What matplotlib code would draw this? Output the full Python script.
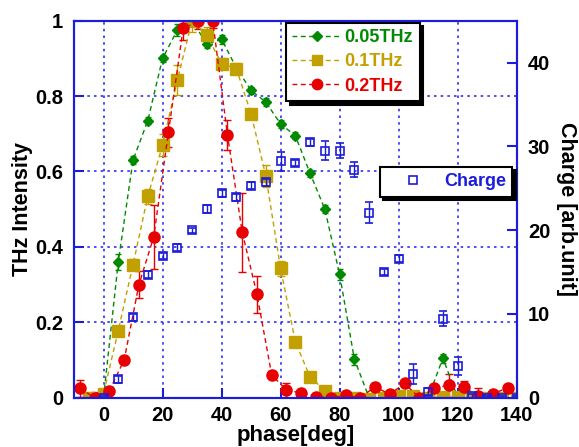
import matplotlib
matplotlib.use("Agg")
from matplotlib import pyplot as plt
from matplotlib.lines import Line2D

plt.rcParams['font.family'] = ['Liberation Sans', 'DejaVu Sans']
plt.rcParams['font.weight'] = 'bold'

# THz intensity, 0.05 THz
g_x = [0, 5, 10, 15, 20, 25, 30, 35, 40, 45, 50, 55, 60, 65, 70, 75, 80, 85,
       90, 95, 100, 105, 110, 115, 120]
g_y = [0.0, 0.36, 0.63, 0.735, 0.90, 0.975, 1.0, 0.938, 0.951, 0.875, 0.815,
       0.784, 0.726, 0.695, 0.595, 0.50, 0.327, 0.102, 0.0, 0.0, 0.0, 0.0, 0.0,
       0.105, 0.0]
g_err = [0.01, 0.02, 0.01, 0.01, 0.01, 0.015, 0.01, 0.01, 0.012, 0.01, 0.01,
         0.01, 0.01, 0.01, 0.01, 0.01, 0.015, 0.015, 0.01, 0.01, 0.01, 0.01,
         0.01, 0.012, 0.01]

# 0.1 THz
o_x = [-5, 0, 5, 10, 15, 20, 25, 30, 35, 40, 45, 50, 55, 60, 65, 70, 75, 80,
       85, 90, 95, 100, 105, 110, 115, 120, 125, 130, 135, 140]
o_y = [0.0, 0.01, 0.178, 0.353, 0.534, 0.67, 0.842, 1.0, 0.962, 0.886, 0.873,
       0.753, 0.588, 0.343, 0.148, 0.055, 0.019, 0.0, 0.0, -0.003, 0.0, 0.004,
       0.004, 0.0, 0.003, 0.003, 0.0, 0.0, 0.0, 0.0]
o_err = [0.01, 0.01, 0.01, 0.015, 0.02, 0.03, 0.04, 0.03, 0.02, 0.015, 0.015,
         0.012, 0.03, 0.02, 0.01, 0.01, 0.01, 0.01, 0.01, 0.01, 0.01, 0.01,
         0.01, 0.01, 0.01, 0.01, 0.01, 0.01, 0.01, 0.01]

# 0.2 THz
r_x = [-8, -3, 2, 7, 12, 17, 22, 27, 32, 37, 42, 47, 52, 57, 62, 67, 72, 77,
       82, 87, 92, 97, 102, 107, 112, 117, 122, 127, 132, 137]
r_y = [0.025, 0.0, 0.019, 0.10, 0.30, 0.426, 0.704, 0.98, 0.998, 1.0, 0.697,
       0.439, 0.274, 0.06, 0.02, 0.013, 0.003, 0.0, 0.006, 0.0, 0.029, 0.009,
       0.038, 0.0, 0.025, 0.033, 0.028, 0.005, 0.011, 0.026]
r_err = [0.022, 0.015, 0.01, 0.01, 0.035, 0.085, 0.038, 0.03, 0.02, 0.02,
         0.04, 0.105, 0.05, 0.01, 0.02, 0.01, 0.01, 0.012, 0.01, 0.01, 0.01,
         0.01, 0.01, 0.01, 0.01, 0.03, 0.015, 0.02, 0.01, 0.01]

# charge (right axis)
c_x = [0, 5, 10, 15, 20, 25, 30, 35, 40, 45, 50, 55, 60, 65, 70, 75, 80, 85,
       90, 95, 100, 105, 110, 115, 120, 125, 130, 135, 140]
c_y = [0.0, 2.2, 9.6, 14.7, 16.9, 17.9, 20.0, 22.5, 24.4, 23.9, 25.3, 25.7,
       28.2, 28.0, 30.5, 29.5, 29.5, 27.2, 22.1, 15.0, 16.6, 2.8, 0.7, 9.4,
       3.8, 0.2, 0.0, 0.0, 0.0]
c_err = [0.2, 0.4, 0.4, 0.4, 0.4, 0.4, 0.3, 0.5, 0.4, 0.4, 0.4, 0.4, 1.1,
         0.4, 0.4, 1.1, 0.9, 0.9, 1.3, 0.4, 0.4, 1.2, 0.4, 0.9, 1.1, 0.2,
         0.2, 0.2, 0.2]

x_ticks = [0, 20, 40, 60, 80, 100, 120, 140]
y_ticks = [0, 0.2, 0.4, 0.6, 0.8, 1.0]
y_labels = ['0', '0.2', '0.4', '0.6', '0.8', '1']
c_ticks = [0, 10, 20, 30, 40]

GREEN = '#008a00'
GOLD = '#c2a000'
RED = '#e80000'
BLUE = '#1c1cdc'
dash = (0, (3.5, 2.5))

fig = plt.figure(figsize=(5.79, 4.47), dpi=100)
ax = fig.add_axes([0.1278, 0.1103, 0.7646, 0.8434])
ax2 = ax.twinx()

ax.errorbar(g_x, g_y, yerr=g_err, color=GREEN, ls=dash, lw=1, marker='D',
            ms=5, capsize=2.5, elinewidth=1)
ax.errorbar(o_x, o_y, yerr=o_err, color=GOLD, ls=dash, lw=1, marker='s',
            ms=8, capsize=3, elinewidth=1)
ax.errorbar(r_x, r_y, yerr=r_err, color=RED, ls=dash, lw=1, marker='o',
            ms=8, capsize=3, elinewidth=1)
ax2.errorbar(c_x, c_y, yerr=c_err, color=BLUE, ls='none', marker='s', ms=6,
             mfc='none', mew=1.2, capsize=3, elinewidth=1)

ax.set_xlim(-10, 140)
ax.set_ylim(0, 1)
ax2.set_ylim(0, 45)
ax.set_xticks(x_ticks)
ax.set_yticks(y_ticks)
ax.set_yticklabels(y_labels)
ax2.set_yticks(c_ticks)

ax.grid(True, color='#3030ee', ls=(0, (1.5, 2.5)), lw=1.2)
for a in (ax, ax2):
    for s in a.spines.values():
        s.set_color(BLUE)
        s.set_linewidth(1.5)
ax.tick_params(axis='both', direction='in', length=7, width=1.5, color=BLUE,
               labelsize=14.5, pad=6)
ax.tick_params(axis='y', pad=8)
ax2.tick_params(axis='y', direction='in', length=7, width=1.5, color=BLUE,
                labelsize=14.5, pad=8)

ax.set_xlabel('phase[deg]', fontsize=16, fontweight='bold', labelpad=0)
ax.set_ylabel('THz Intensity', fontsize=15.5, fontweight='bold', labelpad=1)
ax2.set_ylabel('Charge [arb.unit]', fontsize=15.5, fontweight='bold',
               rotation=270, labelpad=19)

shadow = {'ox': 2.5, 'oy': -2.5, 'facecolor': 'black', 'edgecolor': 'black',
          'alpha': 1}
handles = [
    Line2D([], [], color=GREEN, ls=dash, lw=1, marker='D', ms=5),
    Line2D([], [], color=GOLD, ls=dash, lw=1, marker='s', ms=7),
    Line2D([], [], color=RED, ls=dash, lw=1, marker='o', ms=7.5),
]
leg1 = ax2.legend(handles, ['0.05THz', '0.1THz', '0.2THz'], loc='upper left',
                  bbox_to_anchor=(0.479, 0.994), borderaxespad=0,
                  fancybox=False, shadow=shadow, edgecolor='black',
                  prop={'size': 13, 'weight': 'bold'}, handlelength=2.7,
                  handletextpad=0.2, borderpad=0.35, labelspacing=0.4)
leg1.get_frame().set_linewidth(1.5)
for t, c in zip(leg1.get_texts(), [GREEN, GOLD, RED]):
    t.set_color(c)
ax2.add_artist(leg1)

h2 = Line2D([], [], color=BLUE, ls='none', marker='s', ms=6, mfc='none',
            mew=1.2)
leg2 = ax2.legend([h2], ['Charge'], loc='upper left',
                  bbox_to_anchor=(0.691, 0.612), borderaxespad=0,
                  fancybox=False, shadow=shadow, edgecolor='black',
                  prop={'size': 13, 'weight': 'bold'}, handlelength=3.0,
                  handletextpad=0.2, borderpad=0.35)
leg2.get_frame().set_linewidth(1.5)
leg2.get_texts()[0].set_color(BLUE)

fig.savefig('out.png', dpi=100)
